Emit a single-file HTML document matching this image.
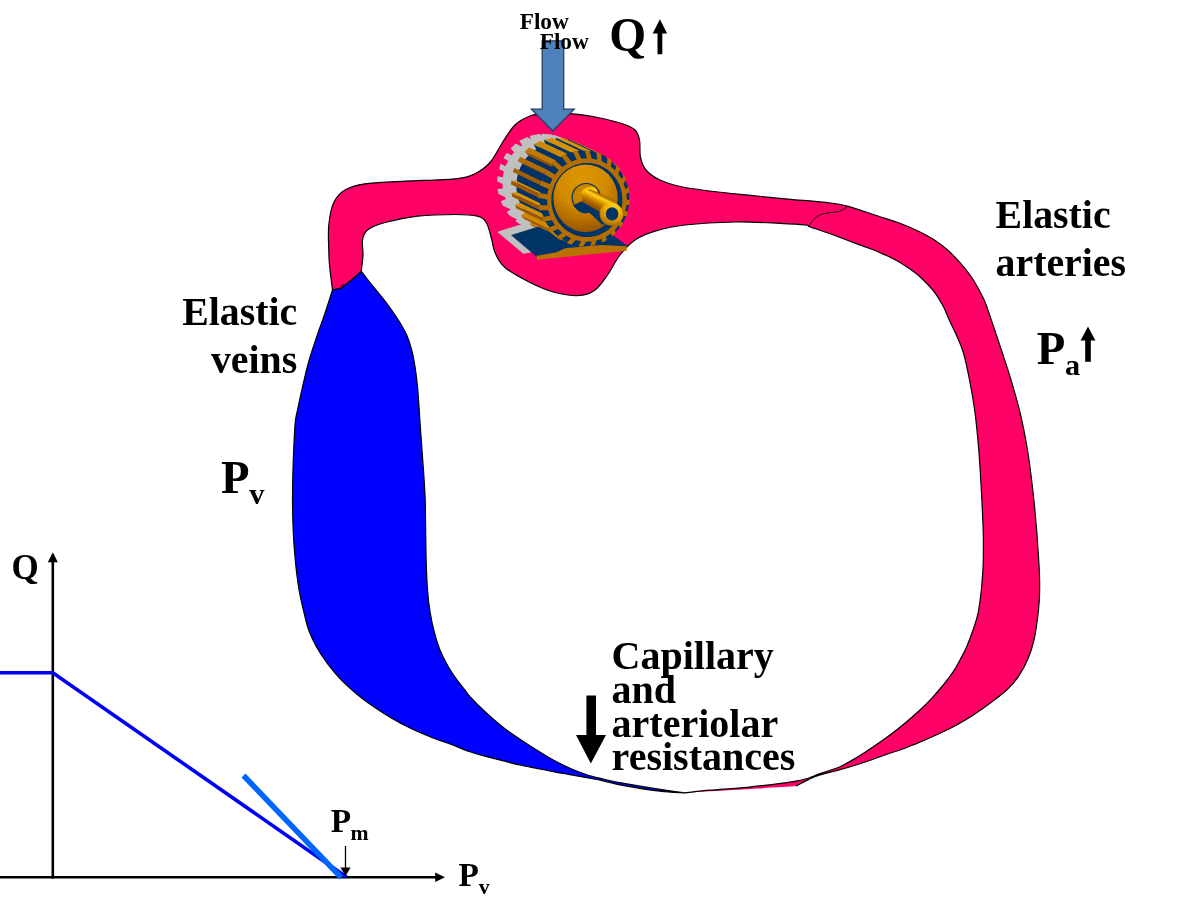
<!DOCTYPE html>
<html lang="en"><head><meta charset="utf-8"><title>Circulation model</title>
<style>
html,body{margin:0;padding:0;background:#fff;}
body{width:1200px;height:900px;overflow:hidden;}
svg{display:block;}
text{font-family:"Liberation Serif",serif;font-weight:bold;fill:#000;}
</style></head><body>
<svg width="1200" height="900" viewBox="0 0 1200 900">
<defs>
<radialGradient id="dome" cx="0.45" cy="0.22" r="0.85">
<stop offset="0" stop-color="#dc9600"/><stop offset="0.45" stop-color="#d38b00"/><stop offset="0.7" stop-color="#b87000"/><stop offset="1" stop-color="#8a4a00"/>
</radialGradient>
<linearGradient id="shaft" gradientUnits="userSpaceOnUse" x1="602.7" y1="195" x2="595.6" y2="209.3">
<stop offset="0" stop-color="#9c5c00"/><stop offset="0.1" stop-color="#c88a00"/><stop offset="0.22" stop-color="#ffd21e"/><stop offset="0.38" stop-color="#e8aa00"/><stop offset="0.55" stop-color="#c88400"/><stop offset="0.75" stop-color="#a86400"/><stop offset="1" stop-color="#8a4a00"/>
</linearGradient>
<radialGradient id="cap" cx="0.62" cy="0.22" r="0.85">
<stop offset="0" stop-color="#ffd21e"/><stop offset="0.4" stop-color="#f2b400"/><stop offset="0.75" stop-color="#c88600"/><stop offset="1" stop-color="#9a5c00"/>
</radialGradient>
<radialGradient id="hub" cx="0.4" cy="0.3" r="0.8">
<stop offset="0" stop-color="#d08c00"/><stop offset="1" stop-color="#b87400"/>
</radialGradient>
</defs>

<path d="M332.5 290.0 C331.2 293.9 327.6 305.5 325.0 313.3 C322.4 321.1 319.3 328.9 316.7 336.7 C314.1 344.5 311.4 352.2 309.2 360.0 C307.0 367.8 305.2 375.0 303.3 383.3 C301.4 391.6 298.9 403.1 297.5 410.0 C296.1 416.9 295.7 416.2 295.0 425.0 C294.3 433.8 293.7 450.0 293.2 462.5 C292.8 475.0 292.5 489.6 292.5 500.0 C292.5 510.4 292.8 518.3 293.0 525.0 C293.2 531.7 293.4 534.7 293.7 540.0 C294.0 545.3 294.5 551.2 295.0 556.7 C295.5 562.2 295.9 567.2 296.7 573.3 C297.5 579.4 298.4 586.6 299.7 593.3 C300.9 600.0 302.7 607.2 304.2 613.3 C305.7 619.4 306.6 624.3 308.7 630.0 C310.8 635.7 313.6 641.8 316.7 647.3 C319.8 652.8 323.3 658.0 327.3 663.3 C331.3 668.6 335.8 674.2 340.7 679.3 C345.6 684.4 351.4 689.5 356.7 694.0 C362.0 698.5 366.9 702.0 372.7 706.0 C378.5 710.0 385.1 714.3 391.3 718.0 C397.5 721.7 403.6 724.9 410.0 728.0 C416.4 731.1 423.3 734.0 430.0 736.7 C436.7 739.4 443.3 741.5 450.0 744.0 C456.7 746.5 463.9 749.6 470.0 751.7 C476.1 753.8 481.1 755.2 486.7 756.7 C492.2 758.2 497.8 759.4 503.3 760.8 C508.9 762.2 514.4 763.8 520.0 765.0 C525.6 766.2 531.2 767.2 536.7 768.3 C542.2 769.4 547.8 770.6 553.3 771.7 C558.8 772.8 564.4 773.7 570.0 774.7 C575.6 775.7 581.2 776.7 586.7 777.7 C592.2 778.7 597.3 779.5 603.3 780.8 C609.3 782.1 613.0 783.6 622.5 785.3 C632.0 787.0 649.6 790.0 660.0 791.2 C670.4 792.5 680.8 792.5 685.0 792.8 C680.8 792.2 670.4 791.0 660.0 789.4 C649.6 787.8 632.0 784.9 622.5 783.2 C613.0 781.5 609.3 780.4 603.3 779.0 C597.3 777.6 592.2 776.6 586.7 774.8 C581.2 773.0 575.6 770.8 570.0 768.3 C564.4 765.8 558.8 763.0 553.3 760.0 C547.8 757.0 542.2 753.5 536.7 750.0 C531.2 746.5 525.6 743.0 520.0 739.2 C514.4 735.5 508.9 731.8 503.3 727.5 C497.8 723.2 492.2 718.4 486.7 713.3 C481.1 708.2 473.6 700.6 470.0 696.7 C466.4 692.8 466.9 692.5 465.0 690.0 C463.1 687.5 461.1 685.6 458.3 681.7 C455.5 677.8 451.4 672.0 448.3 666.7 C445.2 661.4 442.4 655.8 440.0 650.0 C437.6 644.2 435.9 638.1 434.2 631.7 C432.5 625.3 431.1 618.7 430.0 611.7 C428.9 604.8 428.1 597.8 427.5 590.0 C426.9 582.2 426.6 573.3 426.3 565.0 C426.0 556.7 426.0 550.8 425.8 540.0 C425.6 529.2 425.5 510.8 425.2 500.0 C424.9 489.2 424.6 487.5 423.8 475.0 C422.9 462.5 421.0 435.8 420.2 425.0 C419.4 414.2 419.6 416.4 419.2 410.0 C418.8 403.6 418.2 393.9 417.5 386.7 C416.8 379.5 416.0 372.8 415.0 366.7 C414.0 360.6 413.1 355.3 411.7 350.0 C410.3 344.7 408.9 340.0 406.7 335.0 C404.5 330.0 401.6 325.3 398.3 320.0 C395.0 314.7 390.9 308.9 386.7 303.3 C382.5 297.8 377.5 292.0 373.3 286.7 C369.1 281.4 363.3 273.8 361.2 271.2 C359.9 272.5 355.6 276.3 353.0 278.5 C350.4 280.7 347.0 283.7 345.8 284.7 C345.1 284.8 342.3 284.8 341.9 285.2 C341.5 285.6 343.1 286.9 343.4 287.3 L332.5 290.0 Z" fill="#0000ff" stroke="#000" stroke-width="1.2" stroke-linejoin="round"/>
<path d="M332.5 290.0 C332.0 285.8 330.1 271.7 329.5 265.0 C328.9 258.3 328.9 256.7 328.8 250.0 C328.6 243.3 327.9 232.9 328.8 225.0 C329.6 217.1 331.0 208.3 333.8 202.5 C336.5 196.7 339.8 193.1 345.0 190.0 C350.2 186.9 355.0 185.2 365.0 183.8 C375.0 182.3 390.0 182.1 405.0 181.2 C420.0 180.4 443.3 180.0 455.0 178.8 C466.7 177.5 469.2 176.5 475.0 173.8 C480.8 171.0 485.4 167.7 490.0 162.5 C494.6 157.3 498.3 148.8 502.5 142.5 C506.7 136.2 510.4 129.4 515.0 125.0 C519.6 120.6 525.0 117.9 530.0 116.0 C535.0 114.1 537.9 114.1 545.0 113.8 C552.1 113.4 563.8 113.1 572.5 113.8 C581.2 114.4 589.2 115.8 597.5 117.5 C605.8 119.2 616.2 121.7 622.5 123.8 C628.8 125.8 632.2 127.3 635.0 130.0 C637.8 132.7 638.6 135.4 639.5 140.0 C640.4 144.6 639.4 152.5 640.5 157.5 C641.6 162.5 642.8 166.2 646.0 170.0 C649.2 173.8 653.5 177.1 660.0 180.0 C666.5 182.9 672.5 185.2 685.0 187.5 C697.5 189.8 718.3 191.9 735.0 193.8 C751.7 195.6 769.2 197.2 785.0 198.8 C800.8 200.3 819.6 201.8 830.0 203.0 C840.4 204.2 839.2 204.0 847.5 206.2 C855.8 208.5 871.2 213.9 880.0 216.7 C888.8 219.5 893.3 220.8 900.0 223.3 C906.7 225.9 914.5 229.3 920.0 232.0 C925.5 234.7 928.8 236.4 933.3 239.3 C937.8 242.2 942.2 245.4 946.7 249.3 C951.2 253.2 956.0 258.2 960.0 262.7 C964.0 267.1 967.6 271.6 970.7 276.0 C973.8 280.4 976.3 284.9 978.7 289.3 C981.1 293.8 983.2 297.6 985.3 302.7 C987.4 307.8 989.3 314.2 991.3 320.0 C993.3 325.8 994.2 328.3 997.2 337.5 C1000.2 346.7 1005.7 362.5 1009.5 375.0 C1013.3 387.5 1017.0 400.0 1020.0 412.5 C1023.0 425.0 1025.4 437.5 1027.5 450.0 C1029.6 462.5 1031.0 475.0 1032.5 487.5 C1034.0 500.0 1035.2 512.9 1036.2 525.0 C1037.3 537.1 1038.1 550.8 1038.7 560.0 C1039.3 569.2 1039.5 573.3 1039.6 580.0 C1039.7 586.7 1039.7 593.3 1039.3 600.0 C1038.9 606.7 1038.2 613.3 1037.3 620.0 C1036.4 626.7 1035.5 633.5 1034.0 640.0 C1032.5 646.5 1030.6 652.6 1028.0 658.7 C1025.4 664.8 1021.8 671.5 1018.3 676.7 C1014.8 681.9 1011.4 685.6 1006.7 690.0 C1002.0 694.4 995.6 699.1 990.0 703.3 C984.4 707.5 978.8 711.4 973.3 715.0 C967.8 718.6 962.2 722.0 956.7 725.0 C951.2 728.0 945.6 730.7 940.0 733.3 C934.4 735.9 928.8 738.4 923.3 740.8 C917.8 743.2 912.2 745.4 906.7 747.5 C901.2 749.6 895.6 751.3 890.0 753.3 C884.4 755.2 878.8 757.3 873.3 759.2 C867.8 761.1 862.2 763.0 856.7 764.7 C851.2 766.5 846.1 768.0 840.0 769.7 C833.9 771.4 825.3 773.2 820.0 774.9 C814.7 776.5 812.3 777.7 808.3 779.6 C804.3 781.5 798.0 785.0 796.0 786.1 C790.0 786.5 774.3 787.5 760.0 788.4 C745.7 789.2 722.5 790.5 710.0 791.2 C697.5 791.9 689.2 792.5 685.0 792.8 C689.2 792.4 699.6 791.1 710.0 790.2 C720.4 789.3 735.0 788.5 747.5 787.3 C760.0 786.1 777.0 783.8 785.0 782.8 C793.0 781.8 791.6 782.0 795.5 781.2 C799.4 780.4 804.2 779.5 808.3 778.2 C812.4 776.9 814.7 775.5 820.0 773.6 C825.3 771.7 833.9 769.4 840.0 766.7 C846.1 764.0 851.2 760.8 856.7 757.5 C862.2 754.2 867.8 750.5 873.3 746.7 C878.8 743.0 884.4 739.2 890.0 735.0 C895.6 730.8 901.7 725.9 906.7 721.7 C911.7 717.5 915.8 713.9 920.0 710.0 C924.2 706.1 927.8 702.5 931.7 698.3 C935.6 694.1 939.7 689.4 943.3 685.0 C946.9 680.6 950.5 675.9 953.3 671.7 C956.1 667.5 957.8 664.2 960.0 660.0 C962.2 655.8 964.5 651.8 966.7 646.7 C968.9 641.6 971.4 634.9 973.3 629.3 C975.2 623.7 976.7 619.3 978.0 613.3 C979.3 607.3 980.2 600.0 981.0 593.3 C981.8 586.6 982.3 578.8 982.7 573.3 C983.1 567.8 983.2 565.2 983.3 560.0 C983.4 554.8 983.4 547.8 983.4 542.0 C983.4 536.2 983.4 534.1 983.0 525.0 C982.6 515.9 982.0 500.0 981.2 487.5 C980.5 475.0 979.8 462.5 978.8 450.0 C977.7 437.5 976.5 423.8 975.0 412.5 C973.5 401.2 972.1 392.9 970.0 382.5 C967.9 372.1 966.0 360.4 962.5 350.0 C959.0 339.6 952.6 327.4 949.3 320.0 C946.0 312.6 945.4 310.2 942.7 305.3 C940.0 300.4 937.1 295.5 933.3 290.7 C929.5 285.9 924.4 280.7 920.0 276.7 C915.6 272.7 911.2 269.7 906.7 266.7 C902.2 263.7 897.8 261.0 893.3 258.7 C888.8 256.4 883.6 254.3 880.0 252.7 C876.4 251.1 876.7 251.2 871.7 249.3 C866.7 247.4 857.0 243.9 850.0 241.3 C843.0 238.7 836.3 236.0 830.0 233.8 C823.7 231.5 815.5 228.8 812.0 227.6 C808.5 226.4 809.9 227.0 808.8 226.5 C807.6 226.0 809.8 225.3 805.0 224.8 C800.2 224.3 791.7 223.8 780.0 223.3 C768.3 222.8 750.8 221.7 735.0 222.0 C719.2 222.3 698.3 223.5 685.0 225.0 C671.7 226.5 663.3 228.8 655.0 231.2 C646.7 233.8 640.8 236.0 635.0 240.0 C629.2 244.0 624.6 249.2 620.0 255.0 C615.4 260.8 611.7 269.2 607.5 275.0 C603.3 280.8 599.6 286.6 595.0 290.0 C590.4 293.4 586.7 295.1 580.0 295.5 C573.3 295.9 563.3 294.7 555.0 292.5 C546.7 290.3 538.3 286.7 530.0 282.5 C521.7 278.3 510.8 272.5 505.0 267.5 C499.2 262.5 497.3 257.5 495.0 252.5 C492.7 247.5 492.7 242.5 491.2 237.5 C489.8 232.5 488.5 226.0 486.2 222.5 C484.0 219.0 482.7 217.6 477.5 216.2 C472.3 214.9 465.0 214.5 455.0 214.5 C445.0 214.5 429.2 214.9 417.5 216.2 C405.8 217.6 393.3 220.2 385.0 222.5 C376.7 224.8 371.2 227.1 367.5 230.0 C363.8 232.9 363.2 235.8 362.5 240.0 C361.8 244.2 363.2 249.8 363.0 255.0 C362.8 260.2 361.5 268.5 361.2 271.2 C359.9 272.5 355.6 276.3 353.0 278.5 C350.4 280.7 347.0 283.7 345.8 284.7 C345.1 284.8 342.3 284.8 341.9 285.2 C341.5 285.6 343.1 286.9 343.4 287.3 L332.5 290.0 Z" fill="#ff0066"/>
<path d="M685.0 792.8 C689.2 792.4 699.6 791.1 710.0 790.2 C720.4 789.3 735.0 788.5 747.5 787.3 C760.0 786.1 777.0 783.8 785.0 782.8 C793.0 781.8 791.6 782.0 795.5 781.2 C799.4 780.4 804.2 779.5 808.3 778.2 C812.4 776.9 814.7 775.5 820.0 773.6 C825.3 771.7 833.9 769.4 840.0 766.7 C846.1 764.0 851.2 760.8 856.7 757.5 C862.2 754.2 867.8 750.5 873.3 746.7 C878.8 743.0 884.4 739.2 890.0 735.0 C895.6 730.8 901.7 725.9 906.7 721.7 C911.7 717.5 915.8 713.9 920.0 710.0 C924.2 706.1 927.8 702.5 931.7 698.3 C935.6 694.1 939.7 689.4 943.3 685.0 C946.9 680.6 950.5 675.9 953.3 671.7 C956.1 667.5 957.8 664.2 960.0 660.0 C962.2 655.8 964.5 651.8 966.7 646.7 C968.9 641.6 971.4 634.9 973.3 629.3 C975.2 623.7 976.7 619.3 978.0 613.3 C979.3 607.3 980.2 600.0 981.0 593.3 C981.8 586.6 982.3 578.8 982.7 573.3 C983.1 567.8 983.2 565.2 983.3 560.0 C983.4 554.8 983.4 547.8 983.4 542.0 C983.4 536.2 983.4 534.1 983.0 525.0 C982.6 515.9 982.0 500.0 981.2 487.5 C980.5 475.0 979.8 462.5 978.8 450.0 C977.7 437.5 976.5 423.8 975.0 412.5 C973.5 401.2 972.1 392.9 970.0 382.5 C967.9 372.1 966.0 360.4 962.5 350.0 C959.0 339.6 952.6 327.4 949.3 320.0 C946.0 312.6 945.4 310.2 942.7 305.3 C940.0 300.4 937.1 295.5 933.3 290.7 C929.5 285.9 924.4 280.7 920.0 276.7 C915.6 272.7 911.2 269.7 906.7 266.7 C902.2 263.7 897.8 261.0 893.3 258.7 C888.8 256.4 883.6 254.3 880.0 252.7 C876.4 251.1 876.7 251.2 871.7 249.3 C866.7 247.4 857.0 243.9 850.0 241.3 C843.0 238.7 836.3 236.0 830.0 233.8 C823.7 231.5 815.5 228.8 812.0 227.6 C808.5 226.4 809.9 227.0 808.8 226.5 C807.6 226.0 809.8 225.3 805.0 224.8 C800.2 224.3 791.7 223.8 780.0 223.3 C768.3 222.8 750.8 221.7 735.0 222.0 C719.2 222.3 698.3 223.5 685.0 225.0 C671.7 226.5 663.3 228.8 655.0 231.2 C646.7 233.8 640.8 236.0 635.0 240.0 C629.2 244.0 624.6 249.2 620.0 255.0 C615.4 260.8 611.7 269.2 607.5 275.0 C603.3 280.8 599.6 286.6 595.0 290.0 C590.4 293.4 586.7 295.1 580.0 295.5 C573.3 295.9 563.3 294.7 555.0 292.5 C546.7 290.3 538.3 286.7 530.0 282.5 C521.7 278.3 510.8 272.5 505.0 267.5 C499.2 262.5 497.3 257.5 495.0 252.5 C492.7 247.5 492.7 242.5 491.2 237.5 C489.8 232.5 488.5 226.0 486.2 222.5 C484.0 219.0 482.7 217.6 477.5 216.2 C472.3 214.9 465.0 214.5 455.0 214.5 C445.0 214.5 429.2 214.9 417.5 216.2 C405.8 217.6 393.3 220.2 385.0 222.5 C376.7 224.8 371.2 227.1 367.5 230.0 C363.8 232.9 363.2 235.8 362.5 240.0 C361.8 244.2 363.2 249.8 363.0 255.0 C362.8 260.2 361.5 268.5 361.2 271.2 C359.9 272.5 355.6 276.3 353.0 278.5 C350.4 280.7 347.0 283.7 345.8 284.7 C345.1 284.8 342.3 284.8 341.9 285.2 C341.5 285.6 343.1 286.9 343.4 287.3 L332.5 290.0 C332.0 285.8 330.1 271.7 329.5 265.0 C328.9 258.3 328.9 256.7 328.8 250.0 C328.6 243.3 327.9 232.9 328.8 225.0 C329.6 217.1 331.0 208.3 333.8 202.5 C336.5 196.7 339.8 193.1 345.0 190.0 C350.2 186.9 355.0 185.2 365.0 183.8 C375.0 182.3 390.0 182.1 405.0 181.2 C420.0 180.4 443.3 180.0 455.0 178.8 C466.7 177.5 469.2 176.5 475.0 173.8 C480.8 171.0 485.4 167.7 490.0 162.5 C494.6 157.3 498.3 148.8 502.5 142.5 C506.7 136.2 510.4 129.4 515.0 125.0 C519.6 120.6 525.0 117.9 530.0 116.0 C535.0 114.1 537.9 114.1 545.0 113.8 C552.1 113.4 563.8 113.1 572.5 113.8 C581.2 114.4 589.2 115.8 597.5 117.5 C605.8 119.2 616.2 121.7 622.5 123.8 C628.8 125.8 632.2 127.3 635.0 130.0 C637.8 132.7 638.6 135.4 639.5 140.0 C640.4 144.6 639.4 152.5 640.5 157.5 C641.6 162.5 642.8 166.2 646.0 170.0 C649.2 173.8 653.5 177.1 660.0 180.0 C666.5 182.9 672.5 185.2 685.0 187.5 C697.5 189.8 718.3 191.9 735.0 193.8 C751.7 195.6 769.2 197.2 785.0 198.8 C800.8 200.3 819.6 201.8 830.0 203.0 C840.4 204.2 839.2 204.0 847.5 206.2 C855.8 208.5 871.2 213.9 880.0 216.7 C888.8 219.5 893.3 220.8 900.0 223.3 C906.7 225.9 914.5 229.3 920.0 232.0 C925.5 234.7 928.8 236.4 933.3 239.3 C937.8 242.2 942.2 245.4 946.7 249.3 C951.2 253.2 956.0 258.2 960.0 262.7 C964.0 267.1 967.6 271.6 970.7 276.0 C973.8 280.4 976.3 284.9 978.7 289.3 C981.1 293.8 983.2 297.6 985.3 302.7 C987.4 307.8 989.3 314.2 991.3 320.0 C993.3 325.8 994.2 328.3 997.2 337.5 C1000.2 346.7 1005.7 362.5 1009.5 375.0 C1013.3 387.5 1017.0 400.0 1020.0 412.5 C1023.0 425.0 1025.4 437.5 1027.5 450.0 C1029.6 462.5 1031.0 475.0 1032.5 487.5 C1034.0 500.0 1035.2 512.9 1036.2 525.0 C1037.3 537.1 1038.1 550.8 1038.7 560.0 C1039.3 569.2 1039.5 573.3 1039.6 580.0 C1039.7 586.7 1039.7 593.3 1039.3 600.0 C1038.9 606.7 1038.2 613.3 1037.3 620.0 C1036.4 626.7 1035.5 633.5 1034.0 640.0 C1032.5 646.5 1030.6 652.6 1028.0 658.7 C1025.4 664.8 1021.8 671.5 1018.3 676.7 C1014.8 681.9 1011.4 685.6 1006.7 690.0 C1002.0 694.4 995.6 699.1 990.0 703.3 C984.4 707.5 978.8 711.4 973.3 715.0 C967.8 718.6 962.2 722.0 956.7 725.0 C951.2 728.0 945.6 730.7 940.0 733.3 C934.4 735.9 928.8 738.4 923.3 740.8 C917.8 743.2 912.2 745.4 906.7 747.5 C901.2 749.6 895.6 751.3 890.0 753.3 C884.4 755.2 878.8 757.3 873.3 759.2 C867.8 761.1 862.2 763.0 856.7 764.7 C851.2 766.5 846.1 768.0 840.0 769.7 C833.9 771.4 825.3 773.2 820.0 774.9 C814.7 776.5 812.3 777.7 808.3 779.6 C804.3 781.5 798.0 785.0 796.0 786.1" fill="none" stroke="#000" stroke-width="1.2" stroke-linejoin="round"/>
<path d="M808.75 226.5 C810.5 223.5 812.5 220.5 815 218.3 C818 215.8 820.5 214.5 823.3 213.75 C827 212.8 830 212.6 833.3 212.3 C837 212 839.5 211.5 841.7 210.4 C844 209.2 846 207.8 847.5 206.5" fill="none" stroke="#000" stroke-width="0.9"/>
<g fill="#c0c0c0" stroke="#c0c0c0" stroke-width="1.1" stroke-linejoin="round"><polygon points="584.2,182.4 584.0,186.1 583.6,189.8 582.8,193.4 581.7,196.9 580.4,200.3 578.8,203.6 576.9,206.7 574.7,209.7 572.3,212.4 569.7,214.9 566.9,217.1 563.9,219.1 560.8,220.8 557.5,222.2 554.1,223.4 550.7,224.2 547.2,224.6 543.6,224.8 540.1,224.6 536.6,224.2 533.1,223.4 529.7,222.2 526.5,220.8 523.3,219.1 520.4,217.1 517.5,214.9 514.9,212.4 512.5,209.7 510.4,206.7 508.5,203.6 506.9,200.3 505.5,196.9 504.4,193.4 503.7,189.8 503.2,186.1 503.1,182.4 503.2,178.7 503.7,175.0 504.4,171.4 505.5,167.9 506.9,164.5 508.5,161.2 510.4,158.1 512.5,155.1 514.9,152.4 517.5,149.9 520.4,147.7 523.3,145.7 526.5,144.0 529.7,142.6 533.1,141.4 536.6,140.6 540.1,140.2 543.6,140.0 547.2,140.2 550.7,140.6 554.1,141.4 557.5,142.6 560.8,144.0 563.9,145.7 566.9,147.7 569.7,149.9 572.3,152.4 574.7,155.1 576.9,158.1 578.8,161.2 580.4,164.5 581.7,167.9 582.8,171.4 583.6,175.0 584.0,178.7 584.2,182.4"/><polygon points="611.2,195.3 611.0,199.0 610.6,202.6 609.8,206.2 608.7,209.8 607.4,213.2 605.7,216.5 603.8,219.6 601.7,222.5 599.3,225.3 596.7,227.8 593.9,230.0 590.9,232.0 587.8,233.7 584.5,235.1 581.1,236.2 577.7,237.0 574.1,237.5 570.6,237.7 567.1,237.5 563.6,237.0 560.1,236.2 556.7,235.1 553.5,233.7 550.3,232.0 547.3,230.0 544.5,227.8 541.9,225.3 539.5,222.5 537.4,219.6 535.5,216.5 533.8,213.2 532.5,209.8 531.4,206.2 530.7,202.6 530.2,199.0 530.0,195.3 530.2,191.6 530.7,187.9 531.4,184.3 532.5,180.8 533.8,177.4 535.5,174.1 537.4,171.0 539.5,168.0 541.9,165.3 544.5,162.8 547.3,160.5 550.3,158.6 553.5,156.8 556.7,155.4 560.1,154.3 563.6,153.5 567.1,153.0 570.6,152.9 574.1,153.0 577.7,153.5 581.1,154.3 584.5,155.4 587.8,156.8 590.9,158.6 593.9,160.5 596.7,162.8 599.3,165.3 601.7,168.0 603.8,171.0 605.7,174.1 607.4,177.4 608.7,180.8 609.8,184.3 610.6,187.9 611.0,191.6 611.2,195.3"/><polygon points="554.1,234.0 527.1,221.1 560.1,143.7 587.1,156.5"/><polygon points="611.2,196.5 616.5,196.6 589.5,183.7 584.2,183.6"/><polygon points="610.1,185.4 615.3,184.1 588.3,171.3 583.1,172.6"/><polygon points="609.5,207.4 614.6,209.0 587.6,196.1 582.5,194.5"/><polygon points="606.2,174.9 610.9,172.2 583.9,159.4 579.2,162.1"/><polygon points="603.3,220.4 607.6,223.8 580.6,210.9 576.3,207.6"/><polygon points="599.6,165.7 603.5,161.7 576.5,148.9 572.7,152.8"/><polygon points="595.9,228.4 599.3,232.8 572.3,219.9 568.9,215.5"/><polygon points="590.8,158.5 593.4,153.6 566.4,140.7 563.8,145.6"/><polygon points="586.9,234.1 589.0,239.3 562.0,226.4 559.9,221.3"/><polygon points="581.6,148.7 589.4,151.5 562.4,138.6 554.7,135.8"/><polygon points="580.4,154.1 581.6,148.7 554.7,135.8 553.4,141.2"/><polygon points="576.7,237.2 577.5,242.7 550.5,229.9 549.7,224.3"/><polygon points="569.3,147.3 578.3,147.9 551.3,135.1 542.4,134.4"/><polygon points="569.5,152.9 569.3,147.3 542.4,134.4 542.5,140.0"/><polygon points="566.1,237.4 565.5,243.0 538.5,230.1 539.1,224.5"/><polygon points="557.6,149.2 566.2,147.5 539.2,134.6 530.6,136.4"/><polygon points="559.1,154.6 557.6,149.2 530.6,136.4 532.2,141.7"/><polygon points="555.8,234.8 553.9,240.0 526.9,227.1 528.8,221.9"/><polygon points="547.1,154.0 553.9,150.5 527.0,137.7 520.2,141.1"/><polygon points="549.9,158.8 547.1,154.0 520.2,141.1 522.9,146.0"/><polygon points="546.5,229.4 543.4,233.9 516.4,221.0 519.5,216.5"/><polygon points="546.5,236.2 543.4,233.9 516.4,221.0 519.6,223.3"/><polygon points="538.3,161.2 542.8,157.1 515.8,144.2 511.3,148.3"/><polygon points="542.0,165.2 538.3,161.2 511.3,148.3 515.0,152.3"/><polygon points="538.9,221.7 534.7,225.2 507.7,212.3 511.9,208.9"/><polygon points="537.2,228.3 534.7,225.2 507.7,212.3 510.3,215.4"/><polygon points="535.9,173.4 531.3,170.5 504.3,157.7 508.9,160.5"/><polygon points="531.3,170.5 533.9,166.4 506.9,153.5 504.3,157.7"/><polygon points="533.4,212.2 528.5,214.5 501.5,201.6 506.4,199.4"/><polygon points="532.9,179.7 527.9,177.7 500.9,164.8 505.9,166.9"/><polygon points="530.2,218.1 528.5,214.5 501.5,201.6 503.2,205.2"/><polygon points="530.5,201.6 525.2,202.5 498.2,189.6 503.5,188.7"/><polygon points="530.3,190.5 525.0,189.9 498.0,177.1 503.3,177.7"/><polygon points="526.6,181.6 527.9,177.7 500.9,164.8 499.6,168.8"/><polygon points="525.9,206.4 525.2,202.5 498.2,189.6 498.9,193.5"/><polygon points="524.7,193.9 525.0,189.9 498.0,177.1 497.7,181.1"/><polygon points="615.6,195.6 615.4,199.7 614.9,203.7 614.1,207.6 612.9,211.4 611.4,215.2 609.6,218.7 607.6,222.1 605.2,225.3 602.6,228.3 599.8,231.0 596.7,233.5 593.5,235.6 590.0,237.5 586.5,239.0 582.8,240.3 579.0,241.1 575.2,241.7 571.4,241.8 567.5,241.7 563.7,241.1 559.9,240.3 556.2,239.0 552.7,237.5 549.3,235.6 546.0,233.5 542.9,231.0 540.1,228.3 537.5,225.3 535.1,222.1 533.1,218.7 531.3,215.2 529.8,211.4 528.7,207.6 527.8,203.7 527.3,199.7 527.2,195.6 527.3,191.6 527.8,187.6 528.7,183.7 529.8,179.8 531.3,176.1 533.1,172.5 535.1,169.1 537.5,165.9 540.1,163.0 542.9,160.2 546.0,157.8 549.3,155.6 552.7,153.8 556.2,152.2 559.9,151.0 563.7,150.1 567.5,149.6 571.4,149.4 575.2,149.6 579.0,150.1 582.8,151.0 586.5,152.2 590.0,153.8 593.5,155.6 596.7,157.8 599.8,160.2 602.6,163.0 605.2,165.9 607.6,169.1 609.6,172.5 611.4,176.1 612.9,179.8 614.1,183.7 614.9,187.6 615.4,191.6 615.6,195.6"/><polygon points="612.5,197.0 612.2,202.1 616.2,201.1 616.5,196.1"/><polygon points="611.1,207.5 609.6,212.3 613.2,213.3 614.8,208.5"/><polygon points="607.2,217.3 604.5,221.5 607.3,224.2 610.0,220.0"/><polygon points="600.9,225.7 597.3,229.0 598.9,233.1 602.5,229.8"/><polygon points="592.8,232.1 588.4,234.3 588.6,239.5 592.9,237.3"/><polygon points="583.4,236.1 578.6,237.1 577.0,242.8 581.7,241.8"/><polygon points="573.3,237.4 568.4,237.0 565.0,242.9 569.8,243.3"/><polygon points="563.3,235.9 558.6,234.3 553.4,239.8 558.0,241.4"/><polygon points="553.9,231.8 549.8,228.9 543.0,233.6 547.0,236.4"/><polygon points="545.9,225.3 542.7,221.4 534.4,224.8 537.6,228.6"/><polygon points="539.7,216.8 537.6,212.2 528.3,214.0 530.4,218.5"/><polygon points="535.9,207.0 535.0,201.9 525.1,202.0 526.0,206.9"/><polygon points="534.7,196.4 535.0,191.3 525.0,189.4 524.7,194.4"/><polygon points="536.1,185.9 537.6,181.1 528.0,177.3 526.5,182.0"/><polygon points="540.0,176.1 542.7,171.9 533.9,166.4 531.2,170.6"/><polygon points="546.3,167.7 549.9,164.4 542.3,157.4 538.7,160.7"/><polygon points="554.4,161.3 558.8,159.1 552.7,151.1 548.3,153.3"/><polygon points="563.8,157.3 568.6,156.3 564.2,147.7 559.5,148.7"/><polygon points="573.9,156.0 578.8,156.4 576.2,147.6 571.4,147.3"/><polygon points="583.9,157.5 588.6,159.1 587.8,150.8 583.3,149.1"/><polygon points="593.3,161.6 597.4,164.5 598.3,156.9 594.3,154.1"/><polygon points="601.3,168.1 604.5,172.0 606.8,165.7 603.6,161.9"/><polygon points="607.5,176.6 609.6,181.2 612.9,176.5 610.8,172.0"/><polygon points="611.3,186.4 612.2,191.5 616.1,188.6 615.2,183.7"/><polygon points="613.5,196.7 613.3,200.3 612.9,203.9 612.1,207.5 611.1,211.0 609.8,214.3 608.2,217.5 606.3,220.6 604.2,223.5 601.8,226.2 599.2,228.6 596.5,230.9 593.6,232.8 590.5,234.5 587.2,235.9 583.9,237.0 580.5,237.8 577.1,238.2 573.6,238.4 570.1,238.2 566.7,237.8 563.3,237.0 560.0,235.9 556.7,234.5 553.6,232.8 550.7,230.9 548.0,228.6 545.4,226.2 543.0,223.5 540.9,220.6 539.0,217.5 537.4,214.3 536.1,211.0 535.1,207.5 534.3,203.9 533.9,200.3 533.7,196.7 533.9,193.1 534.3,189.5 535.1,185.9 536.1,182.4 537.4,179.1 539.0,175.8 540.9,172.8 543.0,169.9 545.4,167.2 548.0,164.8 550.7,162.5 553.6,160.6 556.7,158.9 560.0,157.5 563.3,156.4 566.7,155.6 570.1,155.2 573.6,155.0 577.1,155.2 580.5,155.6 583.9,156.4 587.2,157.5 590.5,158.9 593.6,160.6 596.5,162.5 599.2,164.8 601.8,167.2 604.2,169.9 606.3,172.8 608.2,175.8 609.8,179.1 611.1,182.4 612.1,185.9 612.9,189.5 613.3,193.1 613.5,196.7"/><polygon points="498.4,232.0 525.0,223.7 536.7,229.2 545.0,235.9 556.7,239.7 573.4,241.4 593.4,236.7 598.4,231.4 613.4,242.5 613.4,244.5 588.4,242.2 551.7,245.5 543.4,249.5 523.4,253.2"/></g>
<polygon points="597.5,185.7 597.3,189.4 596.9,193.1 596.1,196.7 595.0,200.2 593.7,203.6 592.1,206.9 590.2,210.0 588.0,213.0 585.6,215.7 583.0,218.2 580.2,220.4 577.2,222.4 574.1,224.1 570.8,225.5 567.4,226.7 564.0,227.5 560.5,227.9 556.9,228.1 553.4,227.9 549.9,227.5 546.4,226.7 543.0,225.5 539.8,224.1 536.6,222.4 533.7,220.4 530.8,218.2 528.2,215.7 525.8,213.0 523.7,210.0 521.8,206.9 520.2,203.6 518.8,200.2 517.7,196.7 517.0,193.1 516.5,189.4 516.4,185.7 516.5,182.0 517.0,178.3 517.7,174.7 518.8,171.2 520.2,167.8 521.8,164.5 523.7,161.4 525.8,158.4 528.2,155.7 530.8,153.2 533.7,151.0 536.6,149.0 539.8,147.3 543.0,145.9 546.4,144.7 549.9,143.9 553.4,143.5 556.9,143.3 560.5,143.5 564.0,143.9 567.4,144.7 570.8,145.9 574.1,147.3 577.2,149.0 580.2,151.0 583.0,153.2 585.6,155.7 588.0,158.4 590.2,161.4 592.1,164.5 593.7,167.8 595.0,171.2 596.1,174.7 596.9,178.3 597.3,182.0 597.5,185.7" fill="#003366" />
<polygon points="624.5,198.6 624.3,202.3 623.9,205.9 623.1,209.5 622.0,213.1 620.7,216.5 619.0,219.8 617.1,222.9 615.0,225.8 612.6,228.6 610.0,231.1 607.2,233.3 604.2,235.3 601.1,237.0 597.8,238.4 594.4,239.5 591.0,240.3 587.4,240.8 583.9,241.0 580.4,240.8 576.9,240.3 573.4,239.5 570.0,238.4 566.8,237.0 563.6,235.3 560.6,233.3 557.8,231.1 555.2,228.6 552.8,225.8 550.7,222.9 548.8,219.8 547.1,216.5 545.8,213.1 544.7,209.5 544.0,205.9 543.5,202.3 543.3,198.6 543.5,194.9 544.0,191.2 544.7,187.6 545.8,184.1 547.1,180.7 548.8,177.4 550.7,174.3 552.8,171.3 555.2,168.6 557.8,166.1 560.6,163.8 563.6,161.9 566.8,160.1 570.0,158.7 573.4,157.6 576.9,156.8 580.4,156.3 583.9,156.2 587.4,156.3 591.0,156.8 594.4,157.6 597.8,158.7 601.1,160.1 604.2,161.9 607.2,163.8 610.0,166.1 612.6,168.6 615.0,171.3 617.1,174.3 619.0,177.4 620.7,180.7 622.0,184.1 623.1,187.6 623.9,191.2 624.3,194.9 624.5,198.6" fill="#003366" />
<polygon points="567.4,237.3 540.4,224.4 573.4,147.0 600.4,159.8" fill="#003366" />
<polygon points="624.5,199.8 629.8,199.9 602.8,187.0 597.5,186.9" fill="#d79305" />
<polygon points="623.4,188.7 628.6,187.4 601.6,174.6 596.4,175.9" fill="#d69205" />
<polygon points="622.8,210.7 627.9,212.3 600.9,199.4 595.8,197.8" fill="#003366" />
<polygon points="619.5,178.2 624.2,175.5 597.2,162.7 592.5,165.4" fill="#d28d05" />
<polygon points="616.6,223.7 620.9,227.1 593.9,214.2 589.6,210.9" fill="#9e5600" />
<polygon points="612.9,169.0 616.8,165.0 589.8,152.2 586.0,156.1" fill="#c98404" />
<polygon points="609.2,231.7 612.6,236.1 585.6,223.2 582.2,218.8" fill="#9e5600" />
<polygon points="604.1,161.8 606.7,156.9 579.7,144.0 577.1,148.9" fill="#003366" />
<polygon points="600.2,237.4 602.3,242.6 575.3,229.7 573.2,224.6" fill="#9e5600" />
<polygon points="594.9,152.0 602.7,154.8 575.7,141.9 568.0,139.1" fill="#d28d05" />
<polygon points="593.7,157.4 594.9,152.0 568.0,139.1 566.7,144.5" fill="#003366" />
<polygon points="590.0,240.5 590.8,246.0 563.8,233.2 563.0,227.6" fill="#9e5600" />
<polygon points="582.6,150.6 591.6,151.2 564.6,138.4 555.7,137.7" fill="#d79305" />
<polygon points="582.8,156.2 582.6,150.6 555.7,137.7 555.8,143.3" fill="#003366" />
<polygon points="579.4,240.7 578.8,246.3 551.8,233.4 552.4,227.8" fill="#a65e00" />
<polygon points="570.9,152.5 579.5,150.8 552.5,137.9 543.9,139.7" fill="#d69105" />
<polygon points="572.4,157.9 570.9,152.5 543.9,139.7 545.5,145.0" fill="#003366" />
<polygon points="569.1,238.1 567.2,243.3 540.2,230.4 542.1,225.2" fill="#b66f02" />
<polygon points="560.4,157.3 567.2,153.8 540.3,141.0 533.5,144.4" fill="#cd8804" />
<polygon points="563.2,162.1 560.4,157.3 533.5,144.4 536.2,149.3" fill="#003366" />
<polygon points="559.8,232.7 556.7,237.2 529.7,224.3 532.8,219.8" fill="#c37d03" />
<polygon points="559.8,239.5 556.7,237.2 529.7,224.3 532.9,226.6" fill="#9e5600" />
<polygon points="551.6,164.5 556.1,160.4 529.1,147.5 524.6,151.6" fill="#c07a03" />
<polygon points="555.3,168.5 551.6,164.5 524.6,151.6 528.3,155.6" fill="#9e5600" />
<polygon points="552.2,225.0 548.0,228.5 521.0,215.6 525.2,212.2" fill="#cd8804" />
<polygon points="550.5,231.6 548.0,228.5 521.0,215.6 523.6,218.7" fill="#9e5600" />
<polygon points="549.2,176.7 544.6,173.8 517.6,161.0 522.2,163.8" fill="#9e5600" />
<polygon points="544.6,173.8 547.2,169.7 520.2,156.8 517.6,161.0" fill="#b16a01" />
<polygon points="546.7,215.5 541.8,217.8 514.8,204.9 519.7,202.7" fill="#d38f05" />
<polygon points="546.2,183.0 541.2,181.0 514.2,168.1 519.2,170.2" fill="#003366" />
<polygon points="543.5,221.4 541.8,217.8 514.8,204.9 516.5,208.5" fill="#9e5600" />
<polygon points="543.8,204.9 538.5,205.8 511.5,192.9 516.8,192.0" fill="#d79305" />
<polygon points="543.6,193.8 538.3,193.2 511.3,180.4 516.6,181.0" fill="#d79305" />
<polygon points="539.9,184.9 541.2,181.0 514.2,168.1 512.9,172.1" fill="#a45d00" />
<polygon points="539.2,209.7 538.5,205.8 511.5,192.9 512.2,196.8" fill="#9e5600" />
<polygon points="538.0,197.2 538.3,193.2 511.3,180.4 511.0,184.4" fill="#9e5600" />
<polygon points="511.7,235.3 538.3,227.0 550.0,232.5 558.3,239.2 570.0,243.0 586.7,244.7 606.7,240.0 611.7,234.7 626.7,245.8 626.7,247.8 601.7,245.5 565.0,248.8 556.7,252.8 536.7,256.5" fill="#003366" stroke="#003366" stroke-width="0.8"/>
<polygon points="628.9,198.9 628.7,203.0 628.2,207.0 627.4,210.9 626.2,214.7 624.7,218.5 622.9,222.0 620.9,225.4 618.5,228.6 615.9,231.6 613.1,234.3 610.0,236.8 606.8,238.9 603.3,240.8 599.8,242.3 596.1,243.6 592.3,244.4 588.5,245.0 584.7,245.1 580.8,245.0 577.0,244.4 573.2,243.6 569.5,242.3 566.0,240.8 562.6,238.9 559.3,236.8 556.2,234.3 553.4,231.6 550.8,228.6 548.4,225.4 546.4,222.0 544.6,218.5 543.1,214.7 542.0,210.9 541.1,207.0 540.6,203.0 540.5,198.9 540.6,194.9 541.1,190.9 542.0,187.0 543.1,183.1 544.6,179.4 546.4,175.8 548.4,172.4 550.8,169.2 553.4,166.3 556.2,163.5 559.3,161.1 562.6,158.9 566.0,157.1 569.5,155.5 573.2,154.3 577.0,153.4 580.8,152.9 584.7,152.7 588.5,152.9 592.3,153.4 596.1,154.3 599.8,155.5 603.3,157.1 606.8,158.9 610.0,161.1 613.1,163.5 615.9,166.3 618.5,169.2 620.9,172.4 622.9,175.8 624.7,179.4 626.2,183.1 627.4,187.0 628.2,190.9 628.7,194.9 628.9,198.9" fill="#003366" stroke="#003366" stroke-width="0.8"/>
<polygon points="625.8,200.3 625.5,205.4 629.5,204.4 629.8,199.4" fill="#b46e00" />
<polygon points="624.4,210.8 622.9,215.6 626.5,216.6 628.1,211.8" fill="#b46e00" />
<polygon points="620.5,220.6 617.8,224.8 620.6,227.5 623.3,223.3" fill="#b46e00" />
<polygon points="614.2,229.0 610.6,232.3 612.2,236.4 615.8,233.1" fill="#b46e00" />
<polygon points="606.1,235.4 601.7,237.6 601.9,242.8 606.2,240.6" fill="#b46e00" />
<polygon points="596.7,239.4 591.9,240.4 590.3,246.1 595.0,245.1" fill="#b46e00" />
<polygon points="586.6,240.7 581.7,240.3 578.3,246.2 583.1,246.6" fill="#b46e00" />
<polygon points="576.6,239.2 571.9,237.6 566.7,243.1 571.3,244.7" fill="#b46e00" />
<polygon points="567.2,235.1 563.1,232.2 556.3,236.9 560.3,239.7" fill="#b46e00" />
<polygon points="559.2,228.6 556.0,224.7 547.7,228.1 550.9,231.9" fill="#b46e00" />
<polygon points="553.0,220.1 550.9,215.5 541.6,217.3 543.7,221.8" fill="#b46e00" />
<polygon points="549.2,210.3 548.3,205.2 538.4,205.3 539.3,210.2" fill="#b46e00" />
<polygon points="548.0,199.7 548.3,194.6 538.3,192.7 538.0,197.7" fill="#b46e00" />
<polygon points="549.4,189.2 550.9,184.4 541.3,180.6 539.8,185.3" fill="#b46e00" />
<polygon points="553.3,179.4 556.0,175.2 547.2,169.7 544.5,173.9" fill="#b46e00" />
<polygon points="559.6,171.0 563.2,167.7 555.6,160.7 552.0,164.0" fill="#b46e00" />
<polygon points="567.7,164.6 572.1,162.4 566.0,154.4 561.6,156.6" fill="#b46e00" />
<polygon points="577.1,160.6 581.9,159.6 577.5,151.0 572.8,152.0" fill="#b46e00" />
<polygon points="587.2,159.3 592.1,159.7 589.5,150.9 584.7,150.6" fill="#b46e00" />
<polygon points="597.2,160.8 601.9,162.4 601.1,154.1 596.6,152.4" fill="#b46e00" />
<polygon points="606.6,164.9 610.7,167.8 611.6,160.2 607.6,157.4" fill="#b46e00" />
<polygon points="614.6,171.4 617.8,175.3 620.1,169.0 616.9,165.2" fill="#b46e00" />
<polygon points="620.8,179.9 622.9,184.5 626.2,179.8 624.1,175.3" fill="#b46e00" />
<polygon points="624.6,189.7 625.5,194.8 629.4,191.9 628.5,187.0" fill="#b46e00" />
<polygon points="626.8,200.0 626.6,203.6 626.2,207.2 625.4,210.8 624.4,214.3 623.1,217.6 621.5,220.8 619.6,223.9 617.5,226.8 615.1,229.5 612.5,231.9 609.8,234.2 606.9,236.1 603.8,237.8 600.5,239.2 597.2,240.3 593.8,241.1 590.4,241.5 586.9,241.7 583.4,241.5 580.0,241.1 576.6,240.3 573.3,239.2 570.0,237.8 566.9,236.1 564.0,234.2 561.3,231.9 558.7,229.5 556.3,226.8 554.2,223.9 552.3,220.8 550.7,217.6 549.4,214.3 548.4,210.8 547.6,207.2 547.2,203.6 547.0,200.0 547.2,196.4 547.6,192.8 548.4,189.2 549.4,185.7 550.7,182.4 552.3,179.2 554.2,176.1 556.3,173.2 558.7,170.5 561.3,168.1 564.0,165.8 566.9,163.9 570.0,162.2 573.3,160.8 576.6,159.7 580.0,158.9 583.4,158.5 586.9,158.3 590.4,158.5 593.8,158.9 597.2,159.7 600.5,160.8 603.8,162.2 606.9,163.9 609.8,165.8 612.5,168.1 615.1,170.5 617.5,173.2 619.6,176.1 621.5,179.1 623.1,182.4 624.4,185.7 625.4,189.2 626.2,192.8 626.6,196.4 626.8,200.0" fill="#b46e00" />
<polygon points="622.4,200.0 622.3,203.2 621.9,206.4 621.2,209.6 620.3,212.7 619.1,215.7 617.6,218.6 616.0,221.3 614.1,223.8 612.0,226.2 609.7,228.4 607.3,230.4 604.6,232.1 601.9,233.6 599.0,234.9 596.1,235.8 593.1,236.5 590.0,237.0 586.9,237.1 583.8,237.0 580.7,236.5 577.7,235.8 574.8,234.9 571.9,233.6 569.2,232.1 566.5,230.4 564.1,228.4 561.8,226.2 559.7,223.8 557.8,221.3 556.2,218.6 554.7,215.7 553.5,212.7 552.6,209.6 551.9,206.4 551.5,203.2 551.4,200.0 551.5,196.8 551.9,193.6 552.6,190.4 553.5,187.3 554.7,184.3 556.2,181.4 557.8,178.7 559.7,176.2 561.8,173.8 564.1,171.6 566.5,169.6 569.2,167.9 571.9,166.4 574.8,165.1 577.7,164.2 580.7,163.5 583.8,163.0 586.9,162.9 590.0,163.0 593.1,163.5 596.1,164.2 599.0,165.1 601.9,166.4 604.6,167.9 607.3,169.6 609.7,171.6 612.0,173.8 614.1,176.2 616.0,178.7 617.6,181.4 619.1,184.3 620.3,187.3 621.2,190.4 621.9,193.6 622.3,196.8 622.4,200.0" fill="#003366" />
<polygon points="536.7,255.8 556.7,252.3 565.0,248.3 586.7,246.3 601.7,245.0 611.7,245.5 626.7,246.3 626.7,250.8 536.7,259.7" fill="#b97200" />
<ellipse cx="585.6" cy="198.3" rx="32.2" ry="33.9" fill="url(#dome)"/>
<circle cx="586.2" cy="197.6" r="14.7" fill="#003366"/>
<circle cx="586.2" cy="197.6" r="13.5" fill="url(#hub)"/>
<polygon points="573.2,205.2 582.2,201.1 599.3,211.0 600.8,217.8 605.7,224.8 601.8,224.2 589.5,212.8 584.7,213.4 580.4,212.3 576.7,209.5 574.3,206.8" fill="#003366" />
<ellipse cx="589.6" cy="191.6" rx="7.6" ry="4.6" transform="rotate(-10 589.6 191.6)" fill="#f7c600"/>
<polygon points="583.7,191.6 586.2,190.0 590.2,189.3 615.2,200.7 599.3,211.4 582.2,202.0 582.5,195.8" fill="url(#shaft)" />
<circle cx="611.2" cy="214.1" r="11.6" fill="url(#cap)"/>
<ellipse cx="612.1" cy="213.9" rx="6.3" ry="6.6" fill="#003366"/>
<polygon points="542.2,40.8 563.7,40.8 563.7,109.2 574.2,109.2 552.7,131 531.4,109.2 542.2,109.2" fill="#4f81bd" stroke="#22405f" stroke-width="1.3" stroke-linejoin="miter"/>
<polygon points="659.9,19.2 667.1,33.5 662.3,33.5 662.3,54.2 657.5,54.2 657.5,33.5 652.7,33.5" fill="#000"/>
<polygon points="1088.0,326.5 1095.4,340.6 1090.8,340.6 1090.8,361.8 1085.2,361.8 1085.2,340.6 1080.6,340.6" fill="#000"/>
<polygon points="586.4,695.6 596,695.6 596,735 606,735 590.8,763.6 576,735 586.4,735" fill="#000"/>
<line x1="52.8" y1="878.4" x2="52.8" y2="560" stroke="#000" stroke-width="2.6"/>
<polygon points="52.8,552.3 57.8,562.2 47.8,562.2" fill="#000"/>
<line x1="0" y1="877.2" x2="437" y2="877.2" stroke="#000" stroke-width="2.6"/>
<polygon points="445,877.2 435.2,872.4 435.2,882" fill="#000"/>
<polyline points="0,672.7 52.8,672.7 346.5,877" fill="none" stroke="#0000f5" stroke-width="3.6" stroke-linejoin="miter"/>
<line x1="243.5" y1="775.5" x2="341.2" y2="877.6" stroke="#0066ff" stroke-width="5.6"/>
<line x1="345.5" y1="846" x2="345.5" y2="868" stroke="#000" stroke-width="1.3"/>
<polygon points="340.4,867.4 350.6,867.4 345.5,876" fill="#000"/>
<g style="filter:grayscale(1)">
<text x="519.65" y="29.20" font-size="23.33">Flow</text>
<text x="539.65" y="49.20" font-size="23.33">Flow</text>
<text x="609.30" y="51.20" font-size="47.50">Q</text>
<text x="995.60" y="228.30" font-size="39.80">Elastic</text>
<text x="995.60" y="275.80" font-size="39.80">arteries</text>
<text x="297.20" y="325.30" font-size="39.80" text-anchor="end">Elastic</text>
<text x="297.20" y="373.30" font-size="39.80" text-anchor="end">veins</text>
<text x="221.10" y="493.00" font-size="46.67">P</text>
<text x="249.30" y="504.20" font-size="30.30">v</text>
<text x="1036.80" y="363.50" font-size="46.67">P</text>
<text x="1065.10" y="374.50" font-size="30.30">a</text>
<text x="11.55" y="578.90" font-size="35.00">Q</text>
<text x="330.70" y="831.80" font-size="33.33">P</text>
<text x="350.60" y="839.50" font-size="21.70">m</text>
<text x="458.60" y="885.90" font-size="33.33">P</text>
<text x="478.80" y="893.90" font-size="21.70">v</text>
<text x="611.60" y="669.00" font-size="40.00">Capillary</text>
<text x="611.60" y="703.00" font-size="40.00">and</text>
<text x="611.60" y="737.00" font-size="40.00">arteriolar</text>
<text x="611.60" y="770.00" font-size="40.00">resistances</text>
</g>
</svg></body></html>
